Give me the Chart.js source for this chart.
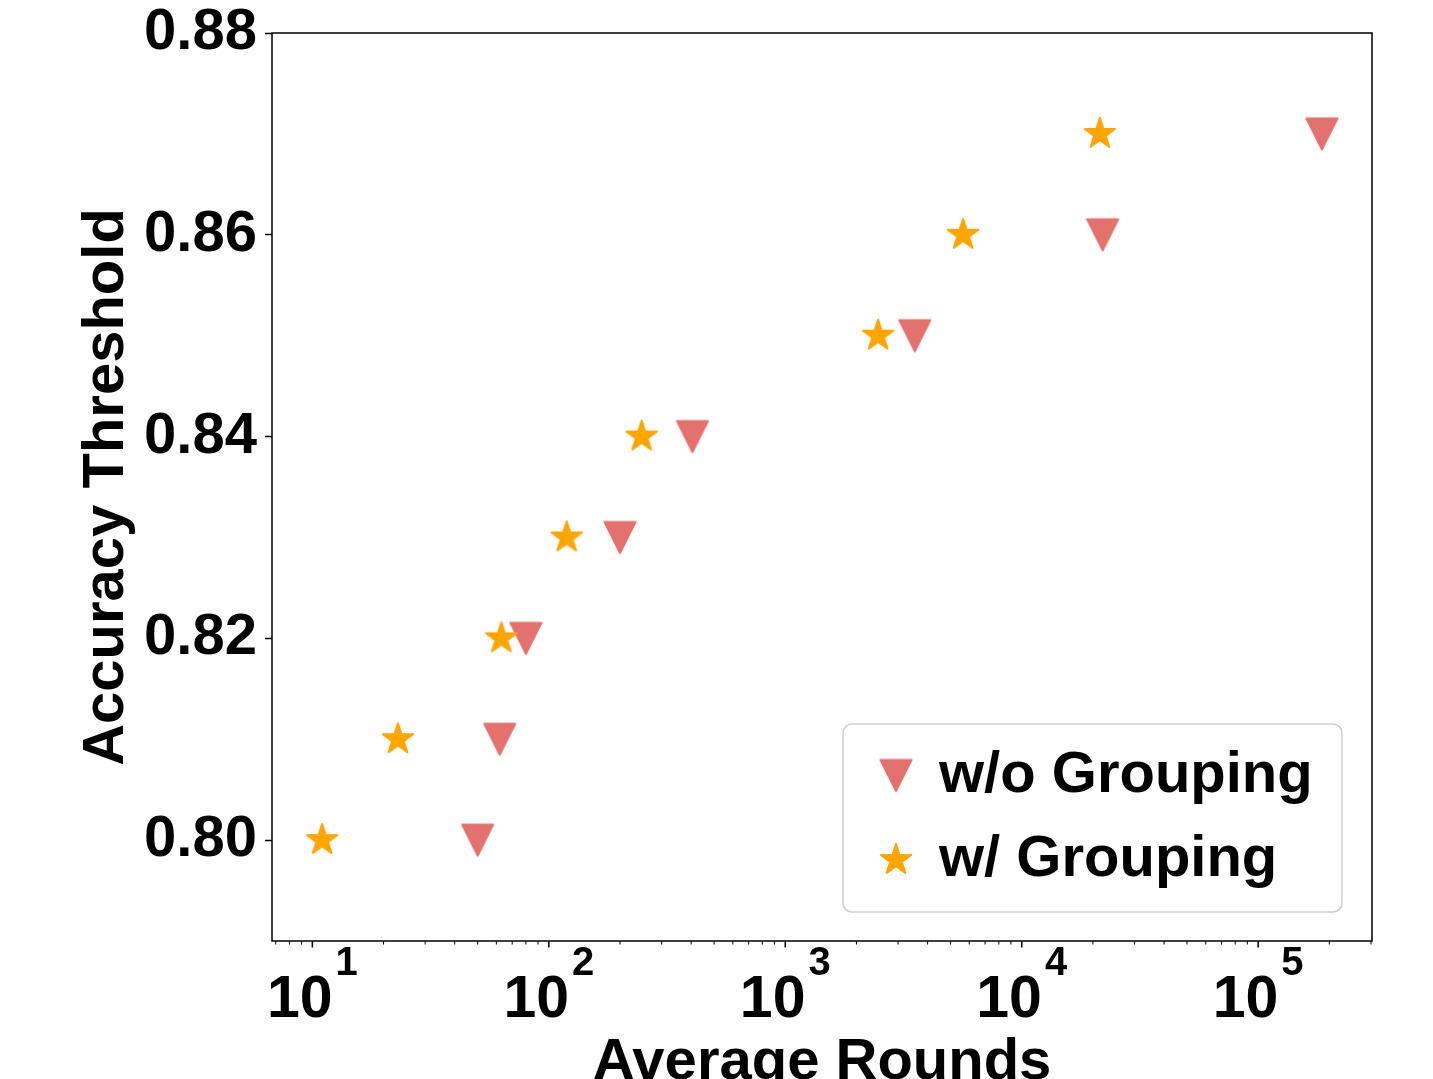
<!DOCTYPE html>
<html lang="en">
<head>
    <meta charset="UTF-8">
    <title>Accuracy Threshold vs Average Rounds</title>
    <style>
        body {
            margin: 0;
            padding: 0;
            background-color: #fff;
        }

        #wrap {
            position: relative;
            width: 1433px;
            height: 1079px;
        }
    </style>
</head>
<body>
    <div id="wrap">
        <canvas id="chart"></canvas>
    </div>

    <script src="https://cdn.jsdelivr.net/npm/chart.js"></script>
    <script>
        // data
        var thresholds = [0.80, 0.81, 0.82, 0.83, 0.84, 0.85, 0.86, 0.87];
        var roundsNoGroup = [50, 62, 80, 200, 405, 3530, 22000, 186000];
        var roundsGroup = [11, 23, 63, 119, 247, 2470, 5650, 21400];
        var seriesLabels = ['w/o Grouping', 'w/ Grouping'];
        var yTickValues = [0.80, 0.82, 0.84, 0.86, 0.88];
        var xTickExponents = [1, 2, 3, 4, 5];

        var FONT = '"Liberation Sans", Arial, Helvetica, sans-serif';
        var RED = '#e3726f';
        var ORANGE = '#ffa500';

        // matplotlib-like "v" marker
        function triangleDown(color) {
            var c = document.createElement('canvas');
            c.width = 36;
            c.height = 36;
            var g = c.getContext('2d');
            var s = 15.5, cx = 18, cy = 18;
            g.beginPath();
            g.moveTo(cx - s, cy - s);
            g.lineTo(cx + s, cy - s);
            g.lineTo(cx, cy + s);
            g.closePath();
            g.fillStyle = color;
            g.strokeStyle = color;
            g.lineWidth = 2;
            g.lineJoin = 'round';
            g.fill();
            g.stroke();
            return c;
        }

        // matplotlib-like "*" marker
        function star(color) {
            var c = document.createElement('canvas');
            c.width = 38;
            c.height = 38;
            var g = c.getContext('2d');
            var R = 16, r = R * 0.381966, cx = 19, cy = 19;
            g.beginPath();
            for (var i = 0; i < 10; i++) {
                var ang = Math.PI / 5 * i;
                var rad = (i % 2 === 0) ? R : r;
                var px = cx + Math.sin(ang) * rad;
                var py = cy - Math.cos(ang) * rad;
                if (i === 0) g.moveTo(px, py); else g.lineTo(px, py);
            }
            g.closePath();
            g.fillStyle = color;
            g.strokeStyle = color;
            g.lineWidth = 2;
            g.lineJoin = 'round';
            g.fill();
            g.stroke();
            return c;
        }

        var triMarker = triangleDown(RED);
        var starMarker = star(ORANGE);

        function points(xs) {
            return thresholds.map(function(t, i) {
                return { x: xs[i], y: t };
            });
        }

        // frame, log ticks with superscript labels, legend box
        var decorPlugin = {
            id: 'decor',
            afterDraw: function(chart) {
                var ctx = chart.ctx;
                var a = chart.chartArea;
                var xs = chart.scales.x;
                ctx.save();

                ctx.strokeStyle = '#000';
                ctx.lineWidth = 1.5;
                ctx.strokeRect(a.left, a.top, a.right - a.left, a.bottom - a.top);

                // major + minor ticks
                var e0 = Math.floor(Math.log10(xs.min));
                var e1 = Math.ceil(Math.log10(xs.max));
                for (var e = e0; e <= e1; e++) {
                    for (var m = 1; m <= 9; m++) {
                        var v = m * Math.pow(10, e);
                        if (v < xs.min || v > xs.max) continue;
                        var px = xs.getPixelForValue(v);
                        ctx.beginPath();
                        ctx.lineWidth = m === 1 ? 1.5 : 1;
                        ctx.moveTo(px, a.bottom);
                        ctx.lineTo(px, a.bottom + (m === 1 ? 6.5 : 3.5));
                        ctx.stroke();
                    }
                }

                // 10^n labels
                ctx.fillStyle = '#000';
                ctx.textBaseline = 'alphabetic';
                ctx.textAlign = 'left';
                xTickExponents.forEach(function(ex) {
                    var px = xs.getPixelForValue(Math.pow(10, ex));
                    ctx.font = 'bold 59px ' + FONT;
                    var wBase = ctx.measureText('10').width;
                    ctx.font = 'bold 40px ' + FONT;
                    var wSup = ctx.measureText(String(ex)).width;
                    var gap = 3;
                    var start = px - (wBase + gap + wSup) / 2;
                    ctx.font = 'bold 59px ' + FONT;
                    ctx.fillText('10', start, a.bottom + 76);
                    ctx.font = 'bold 40px ' + FONT;
                    ctx.fillText(String(ex), start + wBase + gap, a.bottom + 34);
                });

                // legend
                var bw = 499, bh = 188;
                var bx = a.right - 30 - bw;
                var by = a.bottom - 29 - bh;
                ctx.beginPath();
                ctx.roundRect(bx, by, bw, bh, 9);
                ctx.fillStyle = 'rgba(255,255,255,0.8)';
                ctx.fill();
                ctx.strokeStyle = '#d0d0d0';
                ctx.lineWidth = 1.6;
                ctx.stroke();

                var rows = [by + 51.5, by + 136];
                ctx.font = 'bold 58px ' + FONT;
                ctx.fillStyle = '#000';
                chart.data.datasets.forEach(function(ds, i) {
                    var img = ds.pointStyle;
                    var cy = rows[i];
                    ctx.drawImage(img, bx + 53 - img.width / 2, cy - img.height / 2);
                    ctx.fillText(ds.label, bx + 96, cy + 16);
                });

                ctx.restore();
            }
        };

        var ctx = document.getElementById('chart').getContext('2d');
        var myChart = new Chart(ctx, {
            type: 'scatter',
            data: {
                datasets: [{
                    label: seriesLabels[0],
                    data: points(roundsNoGroup),
                    pointStyle: triMarker,
                    pointRadius: 16,
                    order: 1
                }, {
                    label: seriesLabels[1],
                    data: points(roundsGroup),
                    pointStyle: starMarker,
                    pointRadius: 16,
                    order: 0
                }]
            },
            options: {
                responsive: true,
                maintainAspectRatio: false,
                animation: false,
                layout: {
                    padding: { left: 0, right: 61, top: 33, bottom: 0 }
                },
                plugins: {
                    legend: { display: false },
                    tooltip: { enabled: false }
                },
                scales: {
                    x: {
                        type: 'logarithmic',
                        min: 6.75,
                        max: 303000,
                        grid: { display: false },
                        border: { display: false },
                        ticks: { display: false },
                        title: {
                            display: true,
                            text: 'Average Rounds',
                            color: '#000',
                            font: { family: FONT, size: 58, weight: 'bold', lineHeight: 0.4 },
                            padding: { top: 0, bottom: 4 }
                        },
                        afterFit: function(s) {
                            s.height = 138;
                            s.paddingLeft = 0;
                            s.paddingRight = 0;
                        }
                    },
                    y: {
                        min: 0.79,
                        max: 0.88,
                        afterBuildTicks: function(s) {
                            s.ticks = yTickValues.map(function(v) { return { value: v }; });
                        },
                        ticks: {
                            color: '#000',
                            padding: 8,
                            font: { family: FONT, size: 58, weight: 'bold' },
                            callback: function(v) { return Number(v).toFixed(2); }
                        },
                        grid: {
                            drawOnChartArea: false,
                            tickLength: 7,
                            tickColor: '#000',
                            tickWidth: 1.5
                        },
                        border: { display: false },
                        title: {
                            display: true,
                            text: 'Accuracy Threshold',
                            color: '#000',
                            font: { family: FONT, size: 58, weight: 'bold', lineHeight: 1 },
                            padding: { top: 78, bottom: 0 }
                        },
                        afterFit: function(s) {
                            s.width = 272;
                            s.paddingTop = 0;
                            s.paddingBottom = 0;
                        }
                    }
                }
            },
            plugins: [decorPlugin]
        });
    </script>
</body>
</html>
